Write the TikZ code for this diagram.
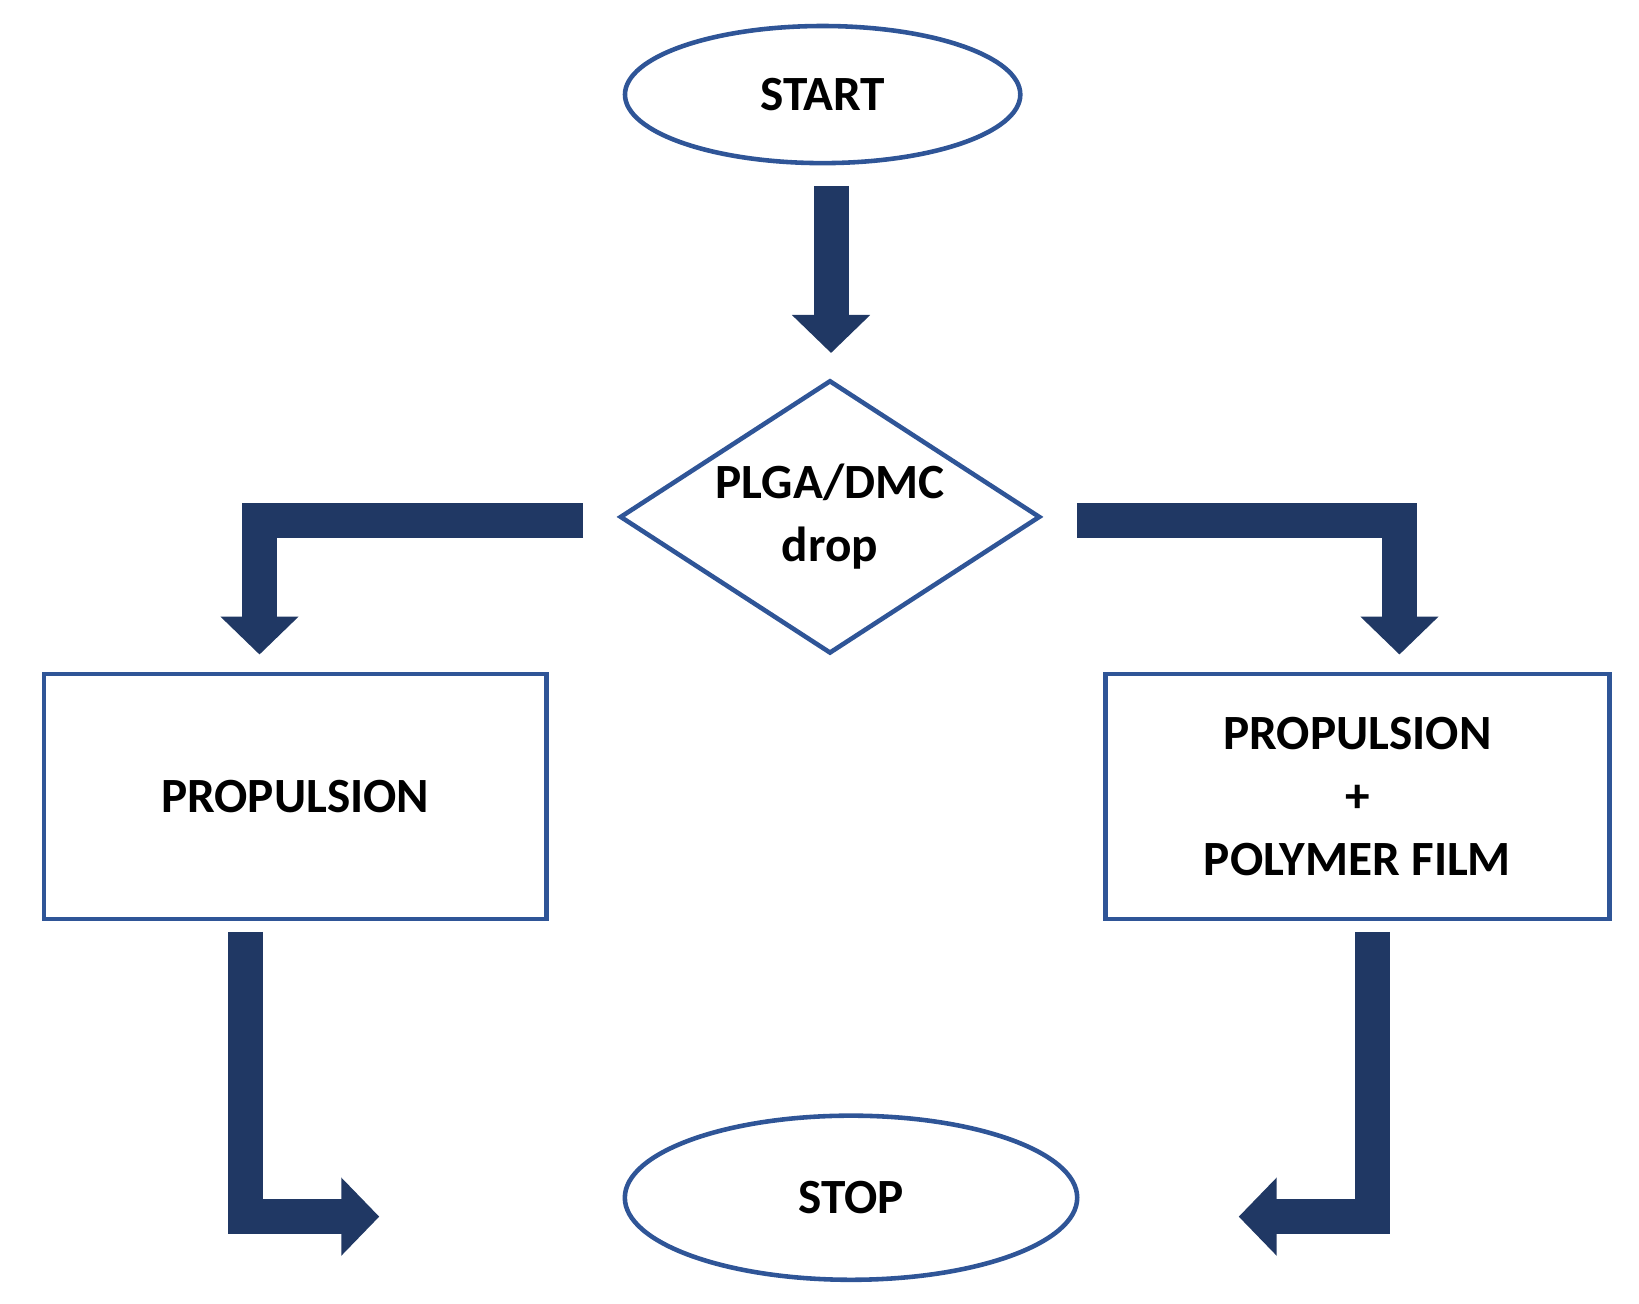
\documentclass[tikz,border=0pt]{standalone}
\usepackage{fontspec}
\setmainfont{Carlito}
\usetikzlibrary{shapes.geometric}
\usetikzlibrary{arrows.meta}
\definecolor{navy}{HTML}{203864}
\definecolor{edgeblue}{HTML}{2F5597}
\tikzset{flow/.style={draw=edgeblue, line width=1.3pt, align=center,
  font=\fontsize{14}{18}\selectfont\bfseries, inner sep=0pt},
  term/.style={flow, ellipse},
  fat/.style={draw=navy, line width=0.35cm, line join=miter,
  -{Triangle[width=0.76cm,length=0.38cm]}}}

\begin{document}
\begin{tikzpicture}[x=0.0105cm, y=-0.0105cm]
  \useasboundingbox (0,0) rectangle (1560,1241);
  \node[term, minimum width=3.95cm, minimum height=1.37cm] (start) at (783,90) {START};
  \node[flow, diamond, minimum width=4.2cm, minimum height=2.73cm, aspect=1.54, inner sep=-6pt] (drop) at (790,492) {PLGA/DMC\\drop};
  \node[flow, rectangle, minimum width=5.02cm, minimum height=2.45cm] (left) at (281,758) {PROPULSION};
  \node[flow, rectangle, minimum width=5.04cm, minimum height=2.45cm] (right) at (1292,758) {PROPULSION\\+\\POLYMER FILM};
  \node[term, minimum width=4.52cm, minimum height=1.64cm] (stop) at (810,1140) {STOP};

  % connector end points
  \coordinate (a1) at (791,177); \coordinate (a2) at (791,336);
  \coordinate (l1) at (555,495); \coordinate (l2) at (247,623);
  \coordinate (r1) at (1025,495); \coordinate (r2) at (1332,623);
  \coordinate (bl1) at (234,887); \coordinate (bl2) at (361,1158);
  \coordinate (br1) at (1306,887); \coordinate (br2) at (1179,1158);

  \draw[fat] (a1) -- (a2);
  \draw[fat] (l1) -| (l2);
  \draw[fat] (r1) -| (r2);
  \draw[fat] (bl1) |- (bl2);
  \draw[fat] (br1) |- (br2);
\end{tikzpicture}
\end{document}
